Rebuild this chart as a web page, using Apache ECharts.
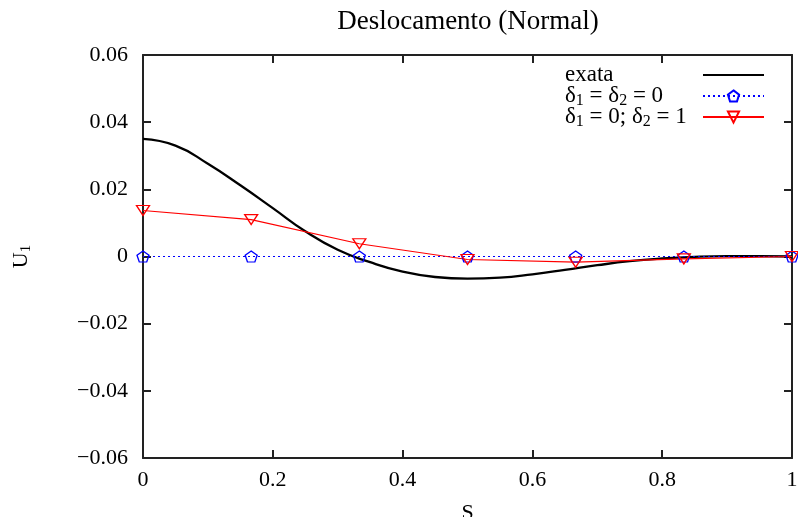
<!DOCTYPE html>
<html>
<head>
<meta charset="utf-8">
<script src="https://cdn.jsdelivr.net/npm/echarts@6/dist/echarts.min.js"></script>
<style>html,body{margin:0;padding:0;background:#fff;}#c{width:798px;height:517px;}</style>
</head>
<body>
<div id="c"></div>
<script>
// ---- data ----
var exactS = [0, 0.05, 0.1, 0.15, 0.2, 0.25, 0.3, 0.35, 0.4, 0.45, 0.5, 0.55, 0.6, 0.65, 0.7, 0.75, 0.8, 0.85, 0.9, 0.95, 1.0];
var exactU = [0.035, 0.0330, 0.0276, 0.0212, 0.0144, 0.0075, 0.0020, -0.0017, -0.0045, -0.0061, -0.0066, -0.0063, -0.0053, -0.0040, -0.0026, -0.0014, -0.0006, -0.0001, 0.0001, 0.0001, 0.0];
var nodeS = [0, 1/6, 1/3, 1/2, 2/3, 5/6, 1];
var delta00U = [0, 0, 0, 0, 0, 0, 0];
var delta01U = [0.0137, 0.0110, 0.0038, -0.0009, -0.0017, -0.0007, 0.0];
var xTickLabels = ['0', '0.2', '0.4', '0.6', '0.8', '1'];
var yTickLabels = ['\u22120.06', '\u22120.04', '\u22120.02', '0', '0.02', '0.04', '0.06'];
var seriesNames = ['exata', '\u03b41 = \u03b42 = 0', '\u03b41 = 0; \u03b42 = 1'];
var titleText = 'Deslocamento (Normal)';

function zip(a, b) { return a.map(function (v, i) { return [v, b[i]]; }); }

var FONT = 'Liberation Serif';
var pentagon = 'path://M50,0 L97.6,34.5 L79.4,90.5 L20.6,90.5 L2.4,34.5 Z';
var triDown = 'path://M0,0 L12,0 L6,10 Z';

var rich = {
  t: { fontFamily: FONT, fontSize: 23, color: '#000', lineHeight: 20, align: 'left' },
  s: { fontFamily: FONT, fontSize: 16, color: '#000', lineHeight: 20, align: 'left', padding: [10, 0, 0, 0] }
};
var legendRich = [
  '{t|exata}{s| }',
  '{t|\u03b4}{s|1}{t| = \u03b4}{s|2}{t| = 0}',
  '{t|\u03b4}{s|1}{t| = 0; \u03b4}{s|2}{t| = 1}'
];

function xLabel(v) { var i = Math.round(v / 0.2); return xTickLabels[i]; }
function yLabel(v) { var i = Math.round((v + 0.06) / 0.02); return yTickLabels[i]; }
function ticks() { return { show: true, inside: true, length: 8, lineStyle: { color: '#222', width: 2 } }; }

var chart = echarts.init(document.getElementById('c'));
chart.setOption({
  animation: false,
  title: {
    text: titleText, left: 463, top: 3, textAlign: 'center',
    textStyle: { fontFamily: FONT, fontSize: 27, fontWeight: 'normal', color: '#000' }
  },
  grid: { left: 143, right: 6, top: 55, bottom: 59, outerBoundsMode: 'none' },
  legend: {
    orient: 'vertical', left: 560, top: 57, align: 'right',
    itemWidth: 61, itemHeight: 14, itemGap: -5,
    data: [
      { name: seriesNames[0], itemStyle: { opacity: 0 } },
      { name: seriesNames[1] },
      { name: seriesNames[2] }
    ],
    formatter: function (name) { return legendRich[seriesNames.indexOf(name)]; },
    textStyle: { width: 133, rich: rich }
  },
  xAxis: [{
    type: 'value', min: 0, max: 1, interval: 0.2,
    name: 'S', nameLocation: 'middle', nameGap: 44,
    nameTextStyle: { fontFamily: FONT, fontSize: 22, color: '#000' },
    axisLine: { show: true, onZero: false, lineStyle: { color: '#222', width: 2 } },
    axisTick: ticks(),
    axisLabel: { formatter: xLabel, fontFamily: FONT, fontSize: 22, color: '#000', margin: 11 },
    splitLine: { show: false }
  }, {
    type: 'value', min: 0, max: 1, interval: 0.2, position: 'top',
    axisLine: { show: true, onZero: false, lineStyle: { color: '#222', width: 2 } },
    axisTick: ticks(),
    axisLabel: { show: false }, splitLine: { show: false }
  }],
  yAxis: [{
    type: 'value', min: -0.06, max: 0.06, interval: 0.02,
    name: '{u|U}{s|1}', nameLocation: 'middle', nameGap: 112,
    nameTextStyle: { rich: { u: { fontFamily: FONT, fontSize: 22, color: '#000', lineHeight: 20 }, s: { fontFamily: FONT, fontSize: 15, color: '#000', lineHeight: 20, padding: [10, 0, 0, 0] } } },
    axisLine: { show: true, onZero: false, lineStyle: { color: '#222', width: 2 } },
    axisTick: ticks(),
    axisLabel: { formatter: yLabel, fontFamily: FONT, fontSize: 22, color: '#000', margin: 15 },
    splitLine: { show: false }
  }, {
    type: 'value', min: -0.06, max: 0.06, interval: 0.02, position: 'right',
    axisLine: { show: true, onZero: false, lineStyle: { color: '#222', width: 2 } },
    axisTick: ticks(),
    axisLabel: { show: false }, splitLine: { show: false }
  }],
  series: [{
    name: seriesNames[0], type: 'line', smooth: true, symbol: 'none',
    data: zip(exactS, exactU),
    lineStyle: { color: '#000', width: 2.3 }, itemStyle: { color: '#000' }
  }, {
    name: seriesNames[1], type: 'line', symbol: pentagon, symbolSize: [12, 11],
    data: zip(nodeS, delta00U),
    lineStyle: { color: '#0000ff', width: 1.2, type: [2, 3] },
    itemStyle: { color: 'rgba(255,255,255,0)', borderColor: '#0000ff', borderWidth: 1.3 }
  }, {
    name: seriesNames[2], type: 'line', symbol: triDown, symbolSize: [13, 10],
    data: zip(nodeS, delta01U),
    lineStyle: { color: '#ff0000', width: 1.2 },
    itemStyle: { color: 'rgba(255,255,255,0)', borderColor: '#ff0000', borderWidth: 1.3 }
  }]
});
</script>
</body>
</html>
